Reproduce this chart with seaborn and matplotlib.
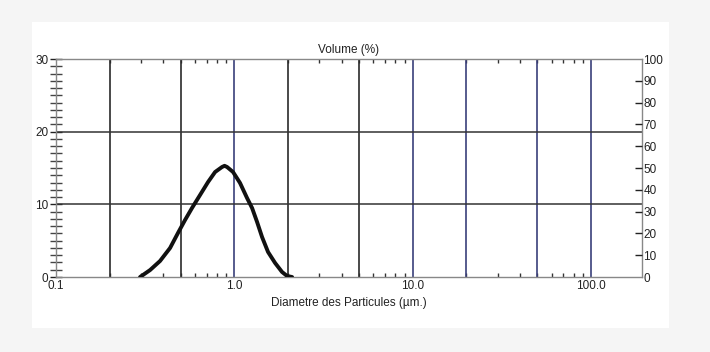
import matplotlib
matplotlib.use("Agg")
import matplotlib.pyplot as plt
import seaborn as sns
import pandas as pd
import numpy as np
from matplotlib.patches import Rectangle
from matplotlib.ticker import FixedLocator, NullFormatter

# ---- data ----
diameter_um = [0.296, 0.337, 0.383, 0.436, 0.483, 0.529, 0.579, 0.642, 0.712,
               0.780, 0.853, 0.881, 0.910, 0.983, 1.076, 1.178, 1.257, 1.341,
               1.430, 1.545, 1.692, 1.851, 1.975, 2.107]
volume_pct = [0.0, 0.96, 2.20, 3.99, 6.06, 7.84, 9.50, 11.28, 13.07,
              14.45, 15.14, 15.30, 15.14, 14.45, 12.94, 10.87, 9.50, 7.57,
              5.50, 3.44, 1.93, 0.69, 0.14, 0.0]
x_tick_vals = [0.1, 1.0, 10.0, 100.0]
x_tick_labels = ["0.1", "1.0", "10.0", "100.0"]
grid_x = [0.2, 0.5, 1.0, 2.0, 5.0, 10.0, 20.0, 50.0, 100.0]
grid_x_colors = ["#2a2a2a", "#2a2a2a", "#3a3f7a", "#2a2a2a", "#2a2a2a",
                 "#3a3f7a", "#3a3f7a", "#3a3f7a", "#3a3f7a"]
grid_y = [10, 20]
left_ticks = [0, 10, 20, 30]
right_ticks = list(range(0, 101, 10))

df = pd.DataFrame({"d": diameter_um, "v": volume_pct})

sns.set_theme(style="white")
plt.rcParams["font.family"] = ["Liberation Sans", "DejaVu Sans"]

fig = plt.figure(figsize=(7.1, 3.52), dpi=100)
fig.patch.set_facecolor("#f5f5f5")
panel = Rectangle((32 / 710, 1 - 328 / 352), (669 - 32) / 710, (328 - 22) / 352,
                  transform=fig.transFigure, facecolor="white",
                  edgecolor="none", zorder=-10)
fig.patches.append(panel)

ax = fig.add_axes([56 / 710, 1 - 277 / 352, (642 - 56) / 710, (277 - 59) / 352])
ax.set_facecolor("none")
ax.set_xscale("log")
ax.set_xlim(0.1, 193)
ax.set_ylim(0, 30)

for gx, c in zip(grid_x, grid_x_colors):
    ax.axvline(gx, color=c, lw=1.2, zorder=1)
for gy in grid_y:
    ax.axhline(gy, color="#333333", lw=1.1, zorder=1)

sns.lineplot(data=df, x="d", y="v", ax=ax, color="#111111", lw=2.8,
             zorder=3, sort=False, solid_capstyle="round", solid_joinstyle="round")

ax.set_xticks(x_tick_vals)
ax.set_xticklabels(x_tick_labels)
ax.xaxis.set_minor_locator(FixedLocator(
    [m * 10.0 ** e for e in range(-1, 3) for m in range(2, 10) if m * 10.0 ** e < 193]))
ax.xaxis.set_minor_formatter(NullFormatter())
ax.tick_params(axis="x", which="major", direction="in", length=0, pad=2,
               labelsize=8.5, colors="#222222", top=False)
ax.tick_params(axis="x", which="minor", direction="in", length=3, width=1,
               color="#333333", top=True, bottom=True)

ax.set_yticks(left_ticks)
ax.yaxis.set_minor_locator(FixedLocator(list(range(0, 31))))
ax.tick_params(axis="y", which="major", direction="inout", length=9, width=1,
               pad=1, labelsize=8.5, colors="#222222")
ax.tick_params(axis="y", which="minor", direction="inout", length=8, width=1,
               color="#444444")

for s in ax.spines.values():
    s.set_color("#888888")
    s.set_linewidth(1.0)

ax.set_xlabel("Diametre des Particules (µm.)", fontsize=8.5, color="#222222", labelpad=4)
ax.set_ylabel("")
ax.set_title("Volume (%)", fontsize=8.5, color="#222222", pad=4)

ax2 = ax.twinx()
ax2.set_ylim(0, 100)
ax2.set_yticks(right_ticks)
ax2.tick_params(axis="y", direction="in", length=5, width=1, pad=1,
                labelsize=8.5, colors="#222222")
ticks2 = ax2.yaxis.get_major_ticks()
for t in (ticks2[0], ticks2[-1]):
    t.tick2line.set_visible(False)
for s in ax2.spines.values():
    s.set_visible(False)

fig.savefig("out.png", dpi=100, facecolor=fig.get_facecolor())
